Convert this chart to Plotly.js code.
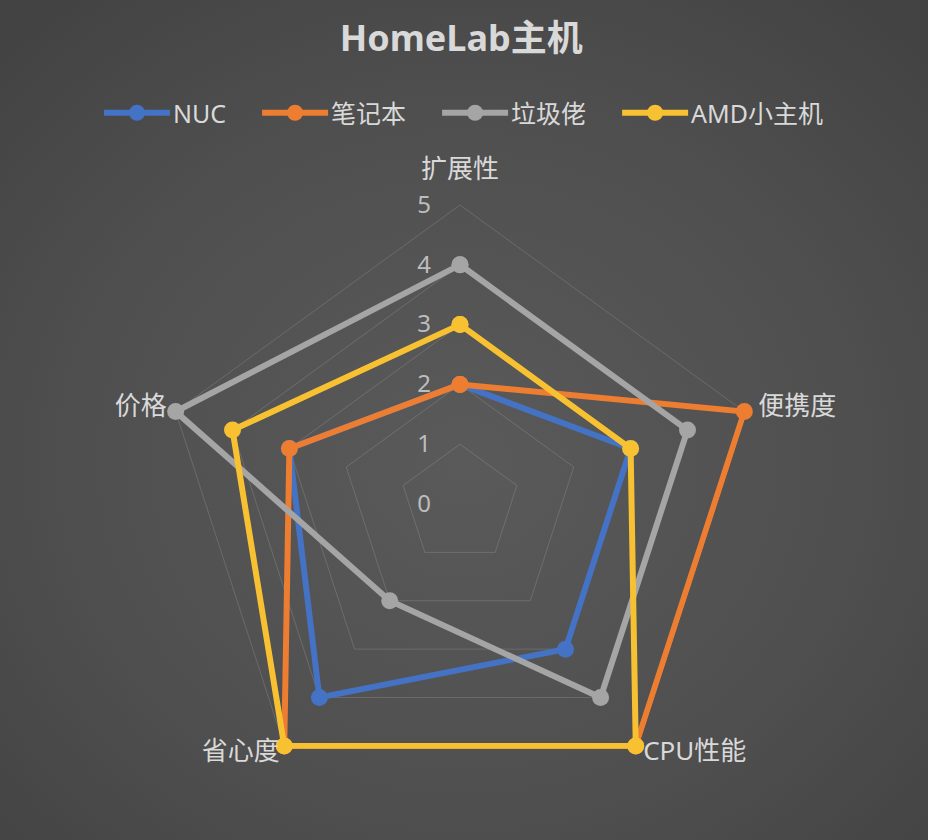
<!DOCTYPE html>
<html>
<head>
<meta charset="utf-8">
<script src="https://cdn.plot.ly/plotly-3.0.1.min.js"></script>
<style>
html,body{margin:0;padding:0;}
body{width:928px;height:840px;background:radial-gradient(ellipse 70% 70% at 50% 55%, #5a5a5a 0%, #4f4f4f 60%, #434343 100%);}
#chart{width:928px;height:840px;}
</style>
</head>
<body>
<div id="chart"></div>
<script>
const categories = ['扩展性', '便携度', 'CPU性能', '省心度', '价格'];
const seriesNames = ['NUC', '笔记本', '垃圾佬', 'AMD小主机'];
const nuc = [2, 3, 3, 4, 3];
const laptop = [2, 5, 5, 5, 3];
const junk = [4, 4, 4, 2, 5];
const amd = [3, 3, 5, 5, 4];
const radialTicks = [0, 1, 2, 3, 4, 5];
const colors = ['#4472C4', '#ED7D31', '#A5A5A5', '#F7C132'];

const seriesValues = [nuc, laptop, junk, amd];
const closed = arr => arr.concat([arr[0]]);
const pad = '\u00a0\u00a0\u00a0\u00a0';
const traces = seriesValues.map((vals, i) => ({
  type: 'scatterpolar',
  mode: 'lines+markers',
  name: seriesNames[i] + (i < seriesValues.length - 1 ? pad : ''),
  r: closed(vals),
  theta: closed(categories),
  line: {color: colors[i], width: 6},
  marker: {color: colors[i], size: 17},
  cliponaxis: false
}));

const gridColor = 'rgba(255,255,255,0.14)';
const rMax = 5.06;
const R5 = 299, cx = 460, cy = 504;
const Rdom = R5 * rMax / 5;
const layout = {
  width: 928, height: 840,
  margin: {l: 0, r: 0, t: 0, b: 0},
  paper_bgcolor: 'rgba(0,0,0,0)',
  plot_bgcolor: 'rgba(0,0,0,0)',
  font: {family: '"Noto Sans", "Noto Sans CJK SC", sans-serif', color: '#d9d9d9'},
  title: {
    text: '<b>HomeLab主机</b>',
    font: {size: 36, color: '#d9d9d9', family: '"Noto Sans", "Noto Sans CJK SC", sans-serif'},
    x: 0.497, xanchor: 'center', xref: 'paper',
    y: 1 - 38/840, yanchor: 'middle', yref: 'container'
  },
  showlegend: true,
  legend: {
    orientation: 'h',
    x: 464/928, xanchor: 'center',
    y: 1 - 113/840, yanchor: 'middle',
    font: {size: 25, color: '#d9d9d9'},
    bgcolor: 'rgba(0,0,0,0)',
    itemwidth: 64
  },
  polar: {
    domain: {x: [(cx - Rdom)/928, (cx + Rdom)/928], y: [(840 - cy - Rdom)/840, (840 - cy + Rdom)/840]},
    bgcolor: 'rgba(0,0,0,0)',
    gridshape: 'linear',
    radialaxis: {
      range: [0, rMax],
      tickvals: radialTicks,
      ticktext: radialTicks.map(String),
      angle: 90,
      side: 'counterclockwise',
      tickangle: 90,
      showline: false,
      ticks: 'outside',
      ticklen: 20,
      tickcolor: 'rgba(0,0,0,0)',
      gridcolor: gridColor,
      gridwidth: 1,
      tickfont: {size: 24, color: '#bdbdbd'}
    },
    angularaxis: {
      rotation: 90,
      direction: 'clockwise',
      showgrid: false,
      showline: false,
      ticks: '',
      tickfont: {size: 26, color: '#d9d9d9'}
    }
  }
};

const labelShift = {'扩展性': [0, -18], '便携度': [10, -2], 'CPU性能': [5, -16], '省心度': [-2, -16], '价格': [-5, -2]};

const gd = document.getElementById('chart');
Plotly.newPlot(gd, traces, layout, {displayModeBar: false, staticPlot: true}).then(() => {
  gd.querySelectorAll('.legend .legendlines path').forEach(p => p.setAttribute('d', 'M5,0h66'));
  gd.querySelectorAll('.legend .legendpoints path').forEach(p => p.setAttribute('transform', 'translate(38,0)'));
  gd.querySelectorAll('.angularaxistick text').forEach(t => {
    const s = labelShift[t.textContent];
    if (s) t.setAttribute('transform', 'translate(' + s[0] + ',' + s[1] + ') ' + (t.getAttribute('transform') || ''));
  });
});
</script>
</body>
</html>
